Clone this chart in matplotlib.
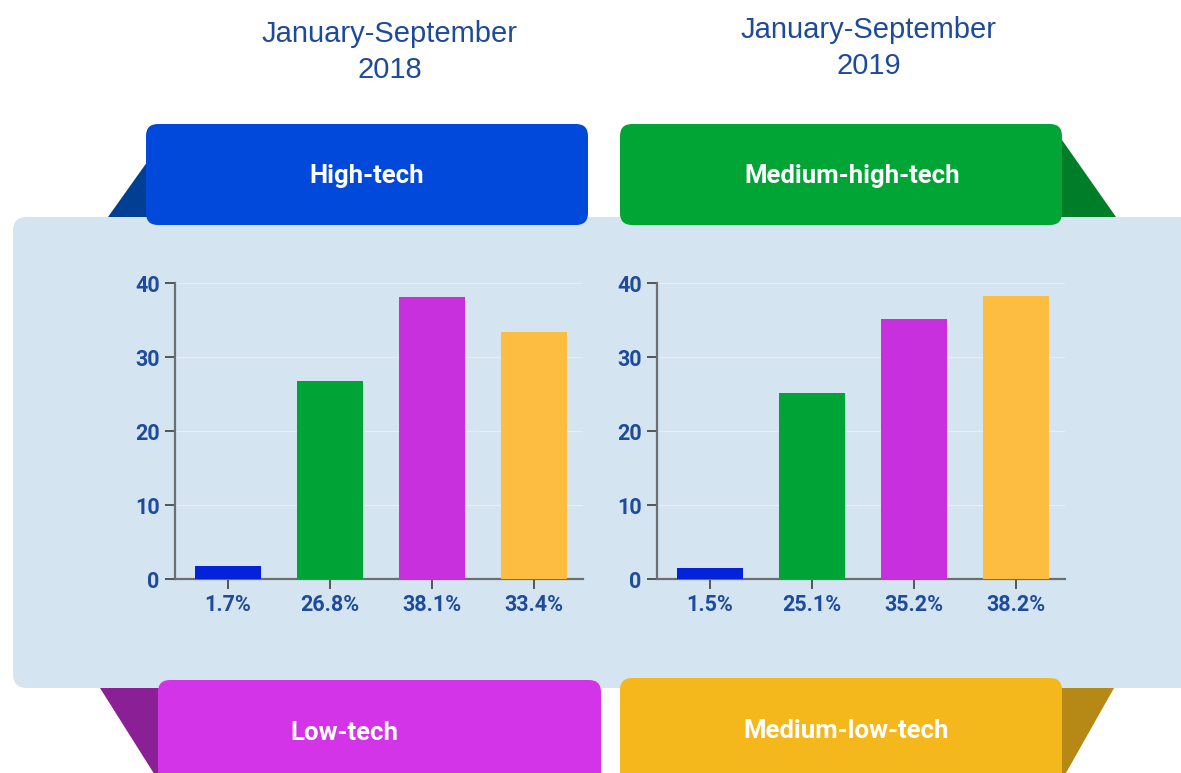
import matplotlib.pyplot as plt
from matplotlib.patches import FancyBboxPatch, Polygon

# data
labels_2018 = ['1.7%', '26.8%', '38.1%', '33.4%']
values_2018 = [1.7, 26.8, 38.1, 33.4]
labels_2019 = ['1.5%', '25.1%', '35.2%', '38.2%']
values_2019 = [1.5, 25.1, 35.2, 38.2]
titles = ['January-September\n2018', 'January-September\n2019']
categories = ['High-tech', 'Medium-high-tech', 'Low-tech', 'Medium-low-tech']
bar_colors = ['#0322d9', '#00a436', '#c930dd', '#fdbd40']

W, H = 1181, 773
fig = plt.figure(figsize=(W / 100, H / 100), dpi=100)

cond = ['Liberation Sans Narrow', 'Roboto', 'DejaVu Sans']
tick_col = '#1f4b9b'

# background decoration in pixel coordinates
bg = fig.add_axes([0, 0, 1, 1], zorder=0)
bg.set_xlim(0, W)
bg.set_ylim(H, 0)
bg.axis('off')

def tab(x0, y0, x1, y1, color):
    bg.add_patch(FancyBboxPatch((x0, y0), x1 - x0, y1 - y0,
                                boxstyle='round,pad=0,rounding_size=12',
                                fc=color, ec='none', zorder=3))

# side triangles
bg.add_patch(Polygon([(108, 217), (150, 158), (150, 217)], fc='#003f94', ec='none', zorder=1))
bg.add_patch(Polygon([(1055, 130), (1116, 217), (1055, 217)], fc='#007d28', ec='none', zorder=1))
bg.add_patch(Polygon([(100, 688), (165, 688), (165, 780), (158, 780)], fc='#8a1f96', ec='none', zorder=1))
bg.add_patch(Polygon([(1055, 688), (1114, 688), (1062, 780), (1055, 780)], fc='#b68815', ec='none', zorder=1))

# panel
bg.add_patch(FancyBboxPatch((13, 217), 1200, 471,
                            boxstyle='round,pad=0,rounding_size=14',
                            fc='#d5e4f1', ec='none', zorder=2))

tab(146, 124, 588, 225, '#0049db')
tab(620, 124, 1062, 225, '#00a536')
tab(158, 680, 601, 800, '#d434e8')
tab(620, 678, 1062, 800, '#f4b81d')

tab_pos = [(367, 176), (852, 176), (344, 733), (846, 731)]
for name, (tx, ty) in zip(categories, tab_pos):
    bg.text(tx, ty, name, color='white', fontsize=18.5, fontweight='bold',
            family=cond, ha='center', va='center', zorder=4)

for t, tx, ty in zip(titles, [390, 869], [52, 48]):
    bg.text(tx, ty, t, color='#1e4a9a', fontsize=21,
            family=['Liberation Sans', 'DejaVu Sans'], ha='center', va='center',
            linespacing=1.4)

# charts
for left, vals, labs in [(175, values_2018, labels_2018), (657, values_2019, labels_2019)]:
    ax = fig.add_axes([left / W, 1 - 579 / H, 408 / W, 296 / H], zorder=1)
    ax.patch.set_alpha(0)
    x = range(len(vals))
    ax.bar(x, vals, width=0.64, color=bar_colors, zorder=3)
    ax.set_xlim(-0.52, 3.48)
    ax.set_ylim(0, 40)
    ax.set_yticks([0, 10, 20, 30, 40])
    ax.set_xticks(list(x))
    ax.set_xticklabels(labs)
    ax.grid(axis='y', color='#e6eef6', lw=1, zorder=0)
    for s in ['top', 'right']:
        ax.spines[s].set_visible(False)
    for s in ['left', 'bottom']:
        ax.spines[s].set_color('#6e6e6e')
        ax.spines[s].set_linewidth(1.6)
    ax.tick_params(axis='both', colors='#555555', width=1.4, length=7, pad=4)
    for lab in ax.get_xticklabels() + ax.get_yticklabels():
        lab.set_color(tick_col)
        lab.set_fontweight('bold')
        lab.set_family(cond)
        lab.set_fontsize(15.5)

fig.savefig('out.png', dpi=100)
